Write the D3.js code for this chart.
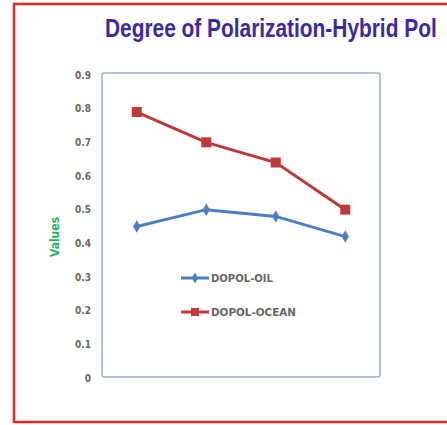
<!DOCTYPE html>
<html lang="en">
<head>
    <meta charset="UTF-8">
    <title>Degree of Polarization-Hybrid Pol</title>
    <script src="https://d3js.org/d3.v7.min.js"></script>
    <style>
        body { margin: 0; background: #fff; }
        .tick-label { font-family: "DejaVu Sans Condensed", sans-serif; font-size: 10px; font-weight: bold; fill: #666; }
        .legend-label { font-family: "DejaVu Sans Condensed", sans-serif; font-size: 10px; font-weight: bold; fill: #666; }
    </style>
</head>
<body>
    <svg width="447" height="425"></svg>
    <script>
        const categories = ["1", "2", "3", "4"];
        const oilValues = [0.45, 0.50, 0.48, 0.42];
        const oceanValues = [0.79, 0.70, 0.64, 0.50];
        const yTicks = [0, 0.1, 0.2, 0.3, 0.4, 0.5, 0.6, 0.7, 0.8, 0.9];
        const seriesNames = ["DOPOL-OIL", "DOPOL-OCEAN"];

        const svg = d3.select("svg");

        // red frame (open on the right)
        svg.append("path")
            .attr("d", "M447,4 H14 V422 H447")
            .attr("fill", "none")
            .attr("stroke", "#e8262a")
            .attr("stroke-width", 2.5);

        // title, squeezed horizontally to look like a condensed face
        const title = svg.append("text")
            .attr("font-family", "Liberation Sans, sans-serif")
            .attr("font-weight", "bold")
            .attr("font-size", 25)
            .attr("fill", "#3a2aa3")
            .text("Degree of Polarization-Hybrid Pol");
        const tw = title.node().getComputedTextLength();
        const sx = 332 / tw;
        title.attr("transform", `translate(105,37) scale(${sx},1)`);

        const plot = {left: 102, right: 380, top: 73, bottom: 377};

        const x = d3.scalePoint()
            .domain(categories)
            .range([plot.left, plot.right])
            .padding(0.5);

        const y = d3.scaleLinear()
            .domain([0, 0.9])
            .range([378, 75]);

        // plot area box
        svg.append("rect")
            .attr("x", plot.left)
            .attr("y", plot.top)
            .attr("width", plot.right - plot.left)
            .attr("height", plot.bottom - plot.top)
            .attr("rx", 2)
            .attr("fill", "#fff")
            .attr("stroke", "#9fb0c8")
            .attr("stroke-width", 1.5);

        const yAxis = svg.append("g")
            .attr("transform", "translate(91,0)")
            .call(d3.axisLeft(y).tickValues(yTicks).tickSize(0).tickFormat(d => d === 0 ? "0" : d3.format(".1f")(d)));
        yAxis.select(".domain").remove();
        yAxis.selectAll("text").attr("class", "tick-label").attr("text-anchor", "end").attr("x", 0);

        svg.append("text")
            .attr("transform", "translate(59,237) rotate(-90)")
            .attr("text-anchor", "middle")
            .attr("font-family", "DejaVu Sans Condensed, sans-serif")
            .attr("font-weight", "bold")
            .attr("font-size", 12)
            .attr("fill", "#1fb35a")
            .text("Values");

        const line = d3.line()
            .x((d, i) => x(categories[i]))
            .y(d => y(d));

        svg.append("path")
            .datum(oilValues)
            .attr("d", line)
            .attr("fill", "none")
            .attr("stroke", "#4a7fc1")
            .attr("stroke-width", 3);

        svg.append("path")
            .datum(oceanValues)
            .attr("d", line)
            .attr("fill", "none")
            .attr("stroke", "#c0393a")
            .attr("stroke-width", 3);

        svg.selectAll(".oil-pt")
            .data(oilValues)
            .enter().append("path")
            .attr("class", "oil-pt")
            .attr("transform", (d, i) => `translate(${x(categories[i])},${y(d)})`)
            .attr("d", d3.symbol().type(d3.symbolDiamond).size(45))
            .attr("fill", "#4a7fc1");

        svg.selectAll(".ocean-pt")
            .data(oceanValues)
            .enter().append("rect")
            .attr("class", "ocean-pt")
            .attr("x", (d, i) => x(categories[i]) - 5)
            .attr("y", d => y(d) - 5)
            .attr("width", 10)
            .attr("height", 10)
            .attr("fill", "#c0393a");

        // legend
        const legend = svg.append("g");
        const legendColors = ["#4a7fc1", "#c0393a"];
        const legendWidths = [62, 85];
        seriesNames.forEach((name, i) => {
            const ly = 278 + i * 34;
            legend.append("line")
                .attr("x1", 181).attr("x2", 209)
                .attr("y1", ly).attr("y2", ly)
                .attr("stroke", legendColors[i])
                .attr("stroke-width", 3);
            if (i === 0) {
                legend.append("path")
                    .attr("transform", `translate(195,${ly})`)
                    .attr("d", d3.symbol().type(d3.symbolDiamond).size(35))
                    .attr("fill", legendColors[i]);
            } else {
                legend.append("rect")
                    .attr("x", 191).attr("y", ly - 4)
                    .attr("width", 8).attr("height", 8)
                    .attr("fill", legendColors[i]);
            }
            legend.append("text")
                .attr("class", "legend-label")
                .attr("x", 211)
                .attr("y", ly + 4)
                .attr("textLength", legendWidths[i])
                .attr("lengthAdjust", "spacingAndGlyphs")
                .text(name);
        });
    </script>
</body>
</html>
